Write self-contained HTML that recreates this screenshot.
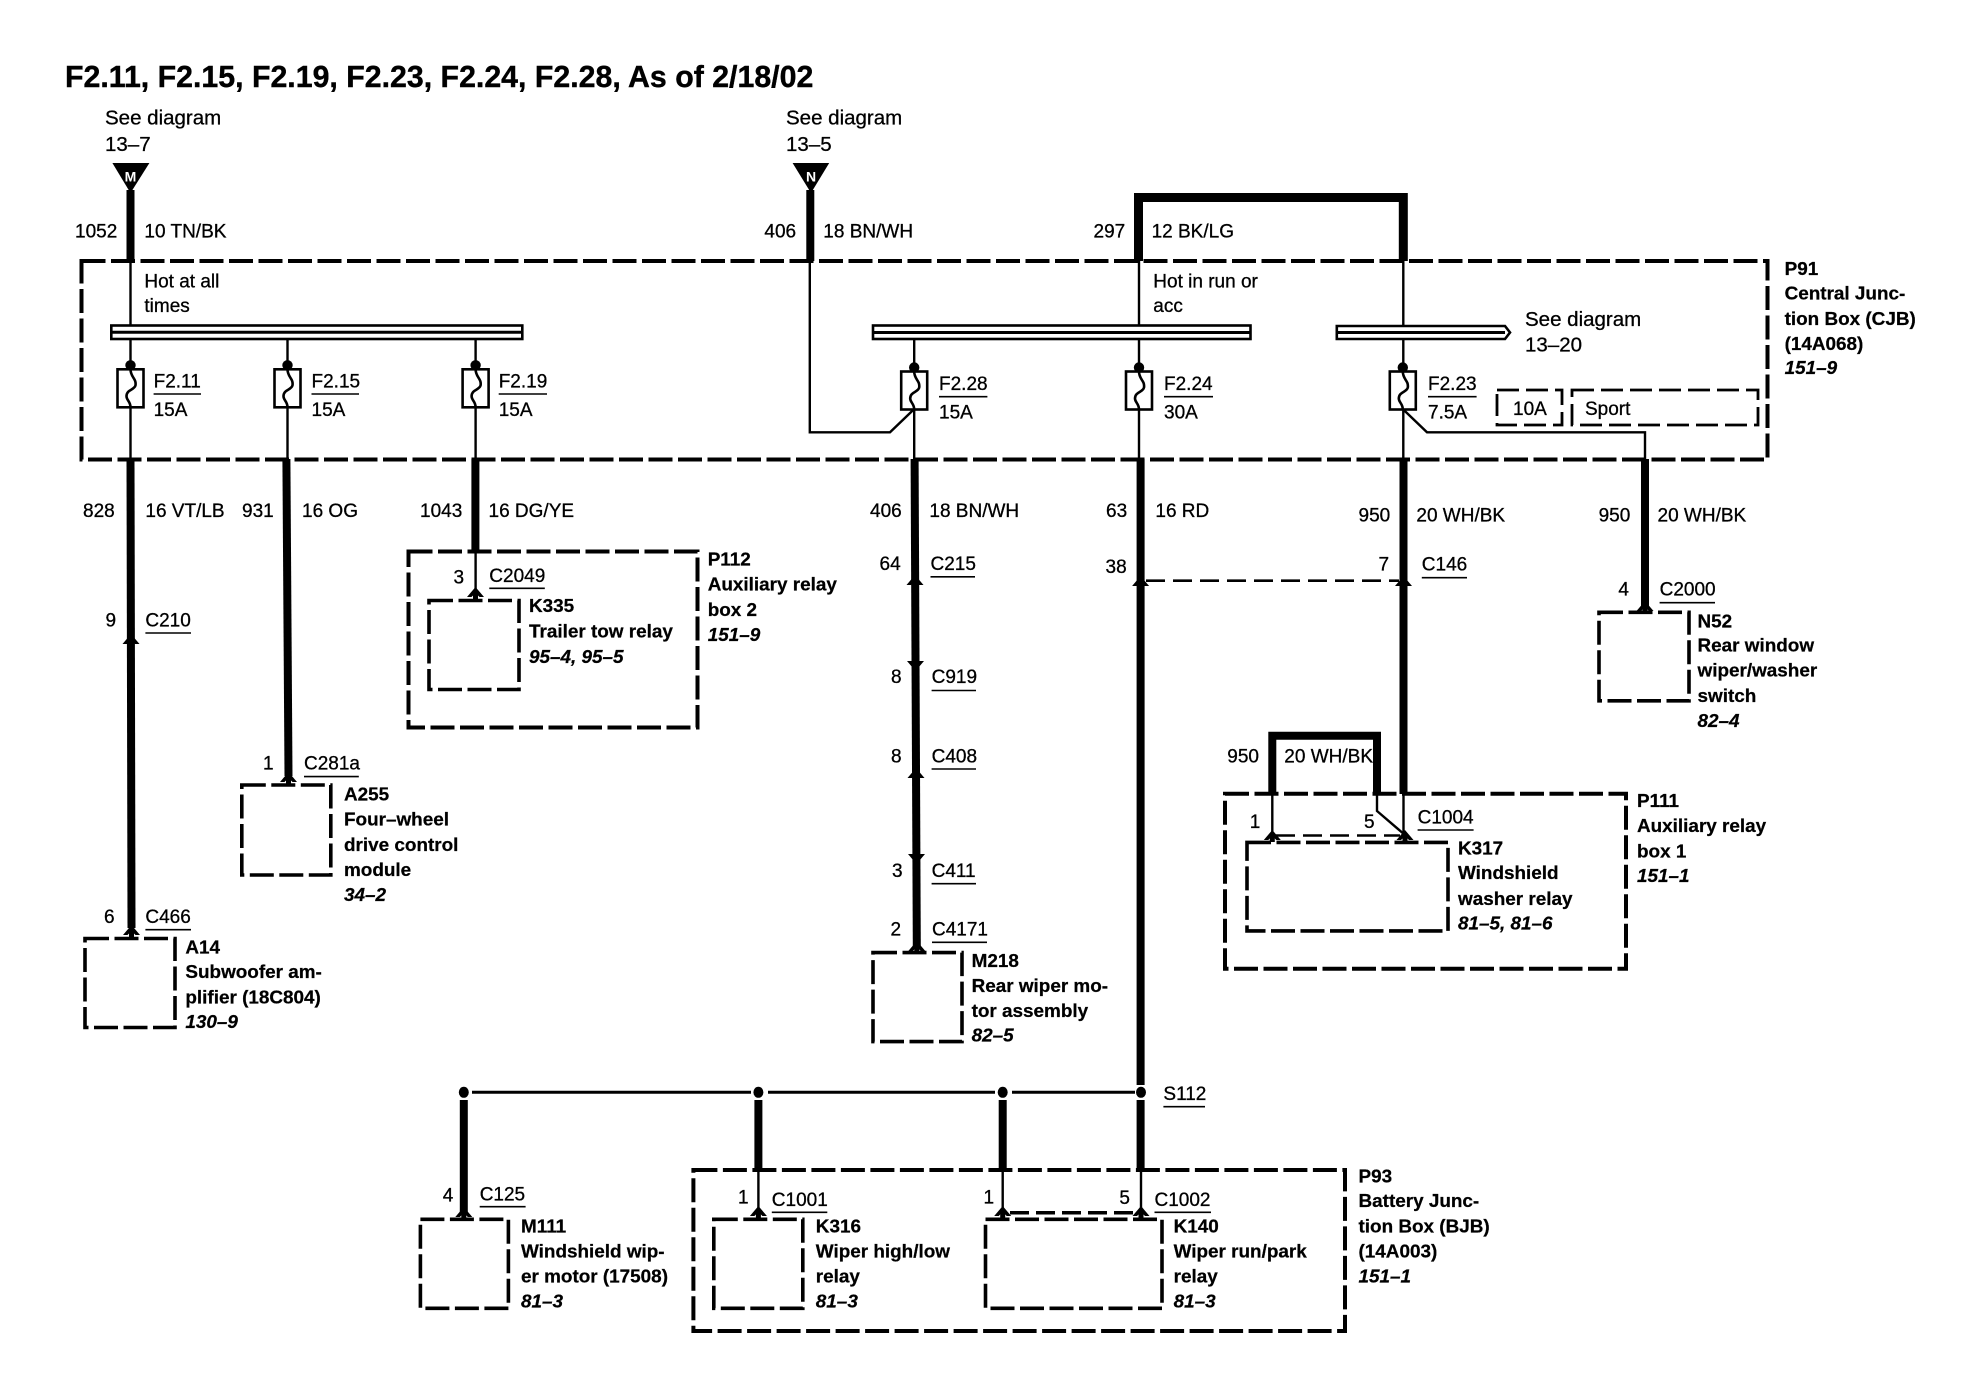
<!DOCTYPE html>
<html><head><meta charset="utf-8"><style>
html,body{margin:0;padding:0;background:#fff}
svg{display:block}
text{font-family:"Liberation Sans",Arial,sans-serif;font-size:19px;fill:#000;stroke:#000;stroke-width:.3}
.b{font-weight:bold;font-size:18.9px;stroke-width:.25}
.i{font-weight:bold;font-style:italic;font-size:18.9px;stroke-width:.25}
.s{font-size:20.5px}
.t{font-weight:bold;font-size:30.3px;stroke-width:.4}
.w{fill:none;stroke:#000;stroke-width:8;stroke-linejoin:miter}
.n{fill:none;stroke:#000;stroke-width:2.4;stroke-linejoin:miter}
.u{fill:none;stroke:#000;stroke-width:1.6}
.d{fill:none;stroke:#000;stroke-width:4;stroke-dasharray:24 5.5}
.e{fill:none;stroke:#000;stroke-width:3.600;stroke-dasharray:24 5.5}
.f{fill:none;stroke:#000;stroke-width:2.800;stroke-dasharray:22 7}
</style></head><body>
<svg width="1964" height="1376" viewBox="0 0 1964 1376" xmlns="http://www.w3.org/2000/svg">
<defs>
<g id="fuse"><circle cx="0" cy="-4" r="5.2" fill="#000"/><rect x="-13" y="0" width="26" height="38" fill="#fff" stroke="#000" stroke-width="2.6"/><path d="M0 0C0 8 6 9 5 16C4 21-4 20-4 27C-4 31 0 32 0 38" fill="none" stroke="#000" stroke-width="2.6"/></g>
<path id="up" d="M-8.500 5L0-5L8.500 5L4 5L0 1L-4 5Z" fill="#000"/>
<path id="dn" d="M-8.500-5L0 5L8.500-5L4-5L0-1L-4-5Z" fill="#000"/>
</defs>

<text class="t" x="65" y="87">F2.11, F2.15, F2.19, F2.23, F2.24, F2.28, As of 2/18/02</text>

<!-- boxes -->
<rect class="d" x="81.500" y="261" width="1686" height="198.500"/>
<rect class="d" x="408.500" y="551.500" width="289" height="176"/>
<rect class="e" x="429" y="600.500" width="90" height="89"/>
<rect class="e" x="241.800" y="785" width="89" height="90"/>
<rect class="e" x="85" y="938.500" width="90" height="89"/>
<rect class="e" x="873" y="952.600" width="89" height="89"/>
<rect class="e" x="1599" y="612.300" width="90" height="88.500"/>
<rect class="d" x="1225" y="793.800" width="401" height="175"/>
<rect class="e" x="1247" y="842.400" width="201" height="88.500"/>
<rect class="d" x="693.400" y="1170" width="651.600" height="161"/>
<rect class="e" x="420.400" y="1219.300" width="88" height="89"/>
<rect class="e" x="713.800" y="1219.300" width="89" height="89"/>
<rect class="e" x="985.500" y="1219.300" width="176.500" height="89"/>
<rect class="f" x="1497" y="390" width="65" height="35"/>
<rect class="f" x="1572" y="390" width="186" height="35"/>

<!-- feeds -->
<path d="M112.400 163H149.400L130.500 193Z" fill="#000"/>
<path d="M792.600 163H829.200L811 193Z" fill="#000"/>
<text x="130.500" y="181.500" text-anchor="middle" style="font-size:14px;font-weight:bold;fill:#fff;stroke:none">M</text>
<text x="811" y="181.500" text-anchor="middle" style="font-size:14px;font-weight:bold;fill:#fff;stroke:none">N</text>
<path class="w" d="M130.500 190V261"/>
<path class="w" d="M810.300 190V261"/>
<path class="w" style="stroke-width:9" d="M1138.500 261V197.500H1403.300V261"/>

<!-- buses -->
<g fill="#fff" stroke="#000" stroke-width="2.600">
<rect x="111.300" y="325.500" width="411" height="13.500"/>
<rect x="873" y="325.500" width="377.500" height="13.500"/>
<path d="M1336.800 326H1505L1510 332.500L1505 339H1336.800Z"/>
</g>
<path class="n" style="stroke-width:3" d="M111 332.300H522M873 332.500H1250M1337 332.500H1505"/>

<!-- thin wires -->
<path class="n" d="M130.500 261V325M130.500 339V365M130.500 405V459"/>
<path class="n" d="M287.500 339V365M287.500 405V459"/>
<path class="n" d="M475.600 339V365M475.600 405V459"/>
<path class="n" d="M809.800 261V432.300H890L914 409.300"/>
<path class="n" d="M914.200 339V367M914.200 409V459"/>
<path class="n" d="M1139 261V325M1139 339V367M1139 409V459"/>
<path class="n" d="M1403.300 261V326M1403.300 339V367M1403.300 409V459"/>
<path class="n" d="M1403 409.300L1427 432.300H1645V459"/>

<!-- fuses -->
<use href="#fuse" x="130.500" y="369.300"/>
<use href="#fuse" x="287.500" y="369.300"/>
<use href="#fuse" x="475.600" y="369.300"/>
<use href="#fuse" x="914.200" y="371.500"/>
<use href="#fuse" x="1139" y="371.500"/>
<use href="#fuse" x="1402.800" y="371.500"/>

<!-- thick down wires -->
<path class="w" d="M130.500 459L131.500 928"/>
<path class="w" d="M286.400 459L288.500 776"/>
<path class="w" d="M475.400 459V552"/>
<path class="n" d="M475.600 552V592"/>
<path class="w" d="M914.600 459L916.800 946"/>
<path class="w" d="M1140.600 459V1085M1140.600 1100V1170"/>
<path class="w" d="M1403.500 459V794"/>
<path class="w" d="M1645 459V606"/>
<path class="w" d="M1272.300 794V735.800H1377V794"/>
<path class="n" d="M1272.300 794V834"/>
<path class="n" d="M1403.500 794V834"/>
<path class="n" d="M1377 794V811L1405 835"/>
<path class="n" style="stroke-dasharray:19 8" d="M1276 835.500H1400"/>
<path class="n" style="stroke-dasharray:19 8;stroke-width:2.600" d="M1146 580.700H1399"/>

<!-- S112 -->
<path class="n" style="stroke-width:3" d="M472 1092.300H751M768 1092.300H995M1012 1092.300H1135"/>
<ellipse cx="463.800" cy="1092.300" rx="5" ry="5.500"/>
<ellipse cx="758.400" cy="1092.300" rx="5" ry="5.500"/>
<ellipse cx="1002.700" cy="1092.300" rx="5" ry="5.500"/>
<ellipse cx="1141" cy="1092.300" rx="5" ry="5.500"/>
<path class="w" d="M463.800 1100V1212"/>
<path class="w" d="M758.400 1100V1170"/>
<path class="w" d="M1002.700 1100V1170"/>
<path class="n" d="M758.400 1170V1211M1002.700 1170V1211M1141 1170V1211"/>
<path class="n" style="stroke-width:3.500;stroke-dasharray:19 7" d="M1010 1212.700H1136"/>

<!-- short stubs into component boxes -->
<path class="n" style="stroke-width:5" d="M131.500 930V938M288.500 777V785M475.500 592V600M916.800 946V953M1645 606V612M1272.300 835V842M1405 835V842M463.800 1212V1219M758.400 1211V1219M1002.700 1211V1219M1141 1211V1219"/>

<!-- connector heads -->
<use href="#up" x="131" y="639"/>
<use href="#up" x="131.500" y="930"/>
<use href="#up" x="288.500" y="777"/>
<use href="#up" x="475.500" y="592"/>
<use href="#up" x="915" y="580"/>
<use href="#dn" x="915.500" y="666"/>
<use href="#up" x="916" y="773"/>
<use href="#dn" x="916.500" y="859"/>
<use href="#up" x="916.800" y="946"/>
<use href="#up" x="1140.600" y="581"/>
<use href="#up" x="1403.500" y="581"/>
<use href="#up" x="1645" y="606"/>
<use href="#up" x="1272.300" y="835"/>
<use href="#up" x="1405" y="835"/>
<use href="#up" x="463.800" y="1212"/>
<use href="#up" x="758.400" y="1211"/>
<use href="#up" x="1002.700" y="1211"/>
<use href="#up" x="1141" y="1211"/>

<!-- underlines -->
<path class="u" d="M153.600 394H201M311.500 394H359M498.700 394H547M939 396.700H987.400M1164 396.700H1213M1428 396.700H1476.600
M145.400 633H191M145.400 929.700H191M304 776.600H358.800M489.300 588.300H544.800
M930.500 576.800H975M931.600 690.500H976M931.600 769H976M931.600 883.700H976M932 942.300H987
M1421.800 577.700H1467M1659.600 602.700H1715M1417.600 830H1473.600
M1163.400 1106.700H1205M479.700 1206.700H525.600M771.800 1212.300H827.300M1154.500 1212.300H1211"/>

<!-- labels -->
<text class="s" x="105" y="124.300">See diagram</text><text class="s" x="105" y="151">13–7</text>
<text class="s" x="786" y="124.300">See diagram</text><text class="s" x="786" y="151">13–5</text>
<text x="75" y="237.700">1052</text><text x="144.400" y="237.700">10 TN/BK</text>
<text x="764.400" y="237.700">406</text><text x="823.300" y="237.700">18 BN/WH</text>
<text x="1093.500" y="237.700">297</text><text x="1151.600" y="237.700">12 BK/LG</text>
<text x="144.400" y="287.300">Hot at all</text><text x="144.400" y="312">times</text>
<text x="1153.300" y="287.300">Hot in run or</text><text x="1153.300" y="312">acc</text>
<text class="s" x="1525" y="326">See diagram</text><text class="s" x="1525" y="351.700">13–20</text>

<text x="153.600" y="387.700">F2.11</text><text x="153.600" y="416">15A</text>
<text x="311.500" y="387.700">F2.15</text><text x="311.500" y="416">15A</text>
<text x="498.700" y="387.700">F2.19</text><text x="498.700" y="416">15A</text>
<text x="939" y="390">F2.28</text><text x="939" y="418.300">15A</text>
<text x="1164" y="390">F2.24</text><text x="1164" y="418.300">30A</text>
<text x="1428" y="390">F2.23</text><text x="1428" y="418.300">7.5A</text>
<text x="1513" y="415">10A</text><text x="1585" y="415">Sport</text>

<text class="b" x="1784.600" y="275">P91</text>
<text class="b" x="1784.600" y="299.300">Central Junc-</text>
<text class="b" x="1784.600" y="325">tion Box (CJB)</text>
<text class="b" x="1784.600" y="350">(14A068)</text>
<text class="i" x="1784.600" y="374">151–9</text>

<text x="83" y="517">828</text><text x="145.400" y="517">16 VT/LB</text>
<text x="242" y="517">931</text><text x="302" y="517">16 OG</text>
<text x="420" y="517">1043</text><text x="488.500" y="517">16 DG/YE</text>
<text x="870" y="517">406</text><text x="929.400" y="517">18 BN/WH</text>
<text x="1106" y="517">63</text><text x="1155.400" y="517">16 RD</text>
<text x="1358.500" y="521.700">950</text><text x="1416.400" y="521.700">20 WH/BK</text>
<text x="1598.600" y="521.700">950</text><text x="1657.500" y="521.700">20 WH/BK</text>

<text x="105.500" y="626.600">9</text><text x="145.400" y="626.600">C210</text>
<text x="263" y="769.700">1</text><text x="304" y="769.700">C281a</text>
<text x="104" y="923">6</text><text x="145.400" y="923">C466</text>
<text x="453.500" y="583.300">3</text><text x="489.300" y="581.800">C2049</text>
<text x="879.500" y="570">64</text><text x="930.500" y="570">C215</text>
<text x="891" y="682.800">8</text><text x="931.600" y="682.800">C919</text>
<text x="891" y="762.400">8</text><text x="931.600" y="762.400">C408</text>
<text x="892" y="877">3</text><text x="931.600" y="877">C411</text>
<text x="890.500" y="935.400">2</text><text x="932" y="935.400">C4171</text>
<text x="1105.500" y="573">38</text>
<text x="1378.500" y="570.700">7</text><text x="1421.800" y="570.700">C146</text>
<text x="1618.400" y="595.700">4</text><text x="1659.600" y="595.700">C2000</text>
<text x="1227.300" y="762.400">950</text><text x="1284.300" y="762.400">20 WH/BK</text>
<text x="1249.800" y="828">1</text><text x="1364" y="828">5</text><text x="1417.600" y="823.700">C1004</text>
<text x="1163.400" y="1100">S112</text>
<text x="442.700" y="1201.700">4</text><text x="479.700" y="1200.700">C125</text>
<text x="738" y="1203.300">1</text><text x="771.800" y="1206">C1001</text>
<text x="983.500" y="1203.300">1</text><text x="1119.400" y="1204">5</text><text x="1154.500" y="1206">C1002</text>

<text class="b" x="707.700" y="565.700">P112</text><text class="b" x="707.700" y="590.700">Auxiliary relay</text><text class="b" x="707.700" y="615.800">box 2</text><text class="i" x="707.700" y="640.800">151–9</text>
<text class="b" x="529" y="612">K335</text><text class="b" x="529" y="637.700">Trailer tow relay</text><text class="i" x="529" y="663">95–4, 95–5</text>
<text class="b" x="344" y="800.300">A255</text><text class="b" x="344" y="825.600">Four–wheel</text><text class="b" x="344" y="851">drive control</text><text class="b" x="344" y="876">module</text><text class="i" x="344" y="901">34–2</text>
<text class="b" x="185.400" y="953.400">A14</text><text class="b" x="185.400" y="978">Subwoofer am-</text><text class="b" x="185.400" y="1003.500">plifier (18C804)</text><text class="i" x="185.400" y="1028">130–9</text>
<text class="b" x="971.600" y="966.800">M218</text><text class="b" x="971.600" y="992">Rear wiper mo-</text><text class="b" x="971.600" y="1017">tor assembly</text><text class="i" x="971.600" y="1041.400">82–5</text>
<text class="b" x="1697.500" y="627.300">N52</text><text class="b" x="1697.500" y="651.700">Rear window</text><text class="b" x="1697.500" y="676.700">wiper/washer</text><text class="b" x="1697.500" y="702">switch</text><text class="i" x="1697.500" y="727">82–4</text>
<text class="b" x="1637" y="807">P111</text><text class="b" x="1637" y="832">Auxiliary relay</text><text class="b" x="1637" y="857.700">box 1</text><text class="i" x="1637" y="882">151–1</text>
<text class="b" x="1458" y="854.300">K317</text><text class="b" x="1458" y="879">Windshield</text><text class="b" x="1458" y="904.800">washer relay</text><text class="i" x="1458" y="929.700">81–5, 81–6</text>
<text class="b" x="521" y="1232.300">M111</text><text class="b" x="521" y="1257.700">Windshield wip-</text><text class="b" x="521" y="1282.300">er motor (17508)</text><text class="i" x="521" y="1307.700">81–3</text>
<text class="b" x="815.800" y="1232.300">K316</text><text class="b" x="815.800" y="1257.700">Wiper high/low</text><text class="b" x="815.800" y="1282.300">relay</text><text class="i" x="815.800" y="1307.700">81–3</text>
<text class="b" x="1173.600" y="1232.300">K140</text><text class="b" x="1173.600" y="1257.700">Wiper run/park</text><text class="b" x="1173.600" y="1282.300">relay</text><text class="i" x="1173.600" y="1307.700">81–3</text>
<text class="b" x="1358.500" y="1182.300">P93</text><text class="b" x="1358.500" y="1207">Battery Junc-</text><text class="b" x="1358.500" y="1232.300">tion Box (BJB)</text><text class="b" x="1358.500" y="1257.700">(14A003)</text><text class="i" x="1358.500" y="1282.300">151–1</text>
</svg>
</body></html>
